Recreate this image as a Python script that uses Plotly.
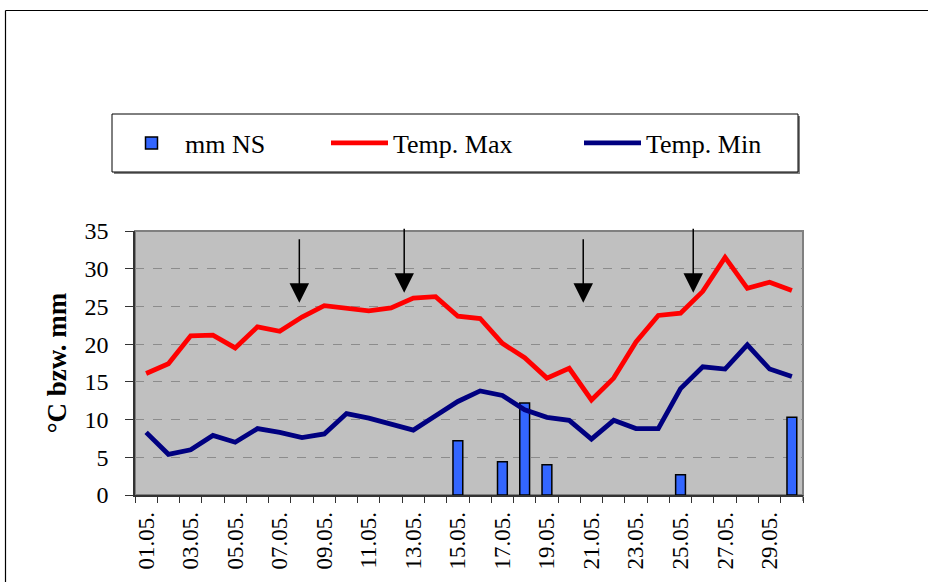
import plotly.graph_objects as go

# ---------------- data ----------------
days = ["01.05.", "02.05.", "03.05.", "04.05.", "05.05.", "06.05.", "07.05.", "08.05.",
        "09.05.", "10.05.", "11.05.", "12.05.", "13.05.", "14.05.", "15.05.", "16.05.",
        "17.05.", "18.05.", "19.05.", "20.05.", "21.05.", "22.05.", "23.05.", "24.05.",
        "25.05.", "26.05.", "27.05.", "28.05.", "29.05.", "30.05."]
tick_labels = [d if i % 2 == 0 else "" for i, d in enumerate(days)]

rain_mm = [None, None, None, None, None, None, None, None, None, None,
           None, None, None, None, 7.2, None, 4.4, 12.2, 4.0, None,
           None, None, None, None, 2.7, None, None, None, None, 10.3]
temp_max = [16.1, 17.4, 21.1, 21.2, 19.5, 22.3, 21.7, 23.6, 25.1, 24.8,
            24.4, 24.8, 26.1, 26.3, 23.7, 23.4, 20.1, 18.2, 15.5, 16.8,
            12.6, 15.5, 20.3, 23.8, 24.1, 27.0, 31.5, 27.4, 28.2, 27.1]
temp_min = [8.3, 5.4, 6.0, 7.9, 7.0, 8.8, 8.3, 7.6, 8.1, 10.8,
            10.2, 9.4, 8.6, 10.5, 12.4, 13.8, 13.2, 11.3, 10.3, 9.9,
            7.4, 9.9, 8.8, 8.8, 14.1, 17.0, 16.7, 19.9, 16.7, 15.7]

# arrows (category position, tip value, tail value)
arrow_pos = [6.88, 11.59, 19.63, 24.57]
arrow_tip = [25.5, 26.8, 25.5, 26.8]
arrow_tail = [34.1, 35.5, 34.1, 35.5]

# ---------------- layout geometry ----------------
W, H = 928, 582
L, R, T, B = 135, 125, 231, 87
PW, PH = W - L - R, H - T - B


def px(x):
    return (x - L) / PW


def py(y):
    return (H - B - y) / PH


FONT = "Liberation Serif"

fig = go.Figure()
fig.add_trace(go.Bar(
    x=days, y=rain_mm, name="mm NS",
    marker=dict(color="#3366FF", line=dict(color="black", width=1.5)),
    legend="legend",
))
fig.add_trace(go.Scatter(
    x=days, y=temp_max, name="Temp. Max", mode="lines",
    line=dict(color="#FF0000", width=4.8), legend="legend2",
))
fig.add_trace(go.Scatter(
    x=days, y=temp_min, name="Temp. Min", mode="lines",
    line=dict(color="#000080", width=4.8), legend="legend3",
))

shapes = [
    # outer frame (left and top edges)
    dict(type="line", xref="paper", yref="paper", x0=px(5.5), x1=px(W + 5), y0=py(10.5), y1=py(10.5),
         line=dict(color="black", width=1.2)),
    dict(type="line", xref="paper", yref="paper", x0=px(5.5), x1=px(5.5), y0=py(10.5), y1=py(H + 5),
         line=dict(color="black", width=1.2)),
    # legend box shadow and box
    dict(type="rect", xref="paper", yref="paper", x0=px(114), x1=px(800), y0=py(116), y1=py(174),
         line=dict(width=0), fillcolor="#808080", layer="below"),
    dict(type="rect", xref="paper", yref="paper", x0=px(112), x1=px(798), y0=py(114), y1=py(172),
         line=dict(color="black", width=1), fillcolor="white", layer="below"),
    # plot area border (gray)
    dict(type="rect", xref="paper", yref="paper", x0=0, x1=1, y0=0, y1=1,
         line=dict(color="#808080", width=2), layer="below"),
    # last tick mark at right end of the category axis
    dict(type="line", xref="paper", yref="paper", x0=1, x1=1, y0=0, y1=-6 / PH,
         line=dict(color="#333333", width=1)),
]

annotations = []
for xp, yt, ya in zip(arrow_pos, arrow_tip, arrow_tail):
    annotations.append(dict(
        x=xp, y=yt, ax=xp, ay=ya, xref="x", yref="y", axref="x", ayref="y",
        text="", showarrow=True, arrowhead=2, arrowsize=2.6, arrowwidth=1.5,
        arrowcolor="black", standoff=0,
    ))

legend_common = dict(
    orientation="h", bgcolor="rgba(0,0,0,0)", borderwidth=0,
    font=dict(family=FONT, size=26, color="black"),
    xanchor="left", yanchor="middle", itemwidth=57,
)

fig.update_layout(
    width=W, height=H,
    margin=dict(l=L, r=R, t=T, b=B, autoexpand=False),
    paper_bgcolor="white", plot_bgcolor="#C0C0C0",
    bargap=0.56,
    showlegend=True,
    font=dict(family=FONT, color="black"),
    shapes=shapes,
    annotations=annotations,
    legend=dict(legend_common, x=px(118), y=py(143)),
    legend2=dict(legend_common, x=px(326), y=py(143)),
    legend3=dict(legend_common, x=px(579), y=py(143)),
    xaxis=dict(
        type="category", tickmode="array", tickvals=days, ticktext=tick_labels,
        tickson="boundaries", ticks="outside", ticklen=6, tickcolor="#333333",
        tickangle=-90, tickfont=dict(family=FONT, size=23, color="black"),
        showline=True, linecolor="#333333", linewidth=1.5, showgrid=False,
        ticklabelstandoff=6, range=[-0.5, 29.5],
    ),
    yaxis=dict(
        range=[0, 35], dtick=5, ticks="outside", ticklen=8, tickcolor="#333333",
        tickfont=dict(family=FONT, size=24, color="black"),
        showline=True, linecolor="#333333", linewidth=1.5,
        showgrid=True, gridcolor="#8C8C8C", griddash="dash", gridwidth=1,
        zeroline=False, ticklabelstandoff=12,
        title=dict(text="°C bzw. mm", font=dict(family=FONT, size=27, color="black", weight="bold"),
                   standoff=10),
    ),
)

fig.write_html(
    "out.html",
    config={"displayModeBar": False},
    post_script="document.body.style.margin='0';document.body.style.overflow='hidden';",
)
